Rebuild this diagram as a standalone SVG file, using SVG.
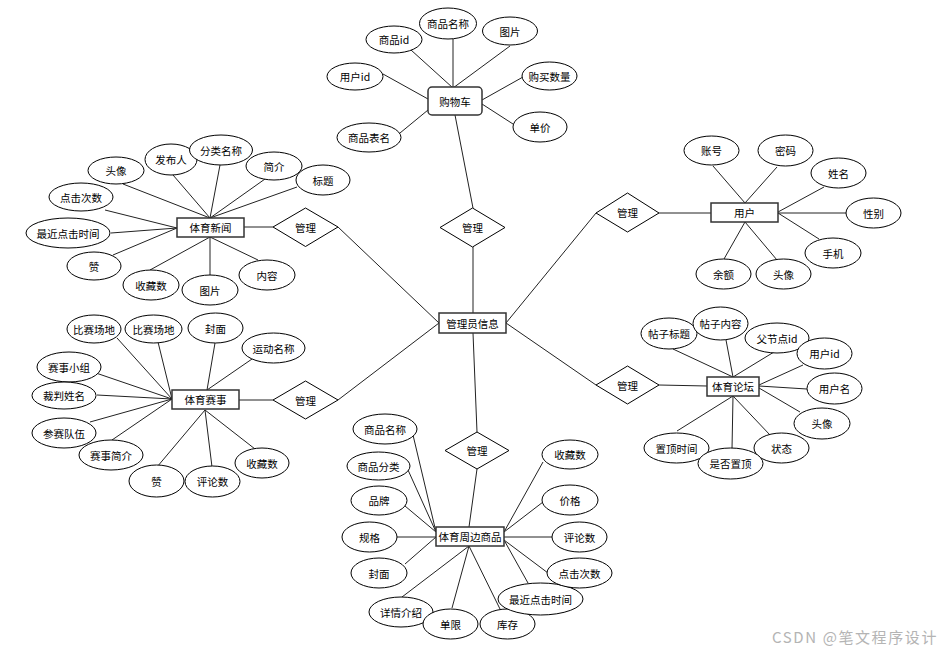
<svg xmlns="http://www.w3.org/2000/svg" width="947" height="651" viewBox="0 0 947 651">
<style>
.e{fill:#fff;stroke:#000;stroke-width:1}
.r{fill:#fff;stroke:#333;stroke-width:1.5}
.d{fill:#fff;stroke:#000;stroke-width:1}
.c line{stroke:#222;stroke-width:1}
text{font-family:"Noto Sans CJK SC","Liberation Sans",sans-serif;font-size:10.5px;fill:#000;text-anchor:middle;dominant-baseline:central}
.wm{font-size:15px;fill:#b4b4b4;text-anchor:start;letter-spacing:1.6px}
</style>
<rect width="947" height="651" fill="#fff"/>
<g id="connectors" class="c">
<line x1="411" y1="50" x2="453" y2="88"/>
<line x1="453" y1="39" x2="453" y2="88"/>
<line x1="510" y1="46" x2="453" y2="88"/>
<line x1="383" y1="74" x2="428" y2="99"/>
<line x1="523" y1="77" x2="482" y2="100"/>
<line x1="513" y1="124" x2="482" y2="104"/>
<line x1="400" y1="133" x2="428" y2="110"/>
<line x1="455" y1="115" x2="473" y2="208"/>
<line x1="123" y1="184" x2="210" y2="218"/>
<line x1="173" y1="175" x2="210" y2="218"/>
<line x1="220" y1="165" x2="210" y2="218"/>
<line x1="265" y1="179" x2="210" y2="218"/>
<line x1="297" y1="187" x2="210" y2="218"/>
<line x1="105" y1="210" x2="177" y2="228"/>
<line x1="111" y1="233" x2="177" y2="228"/>
<line x1="113" y1="255" x2="177" y2="228"/>
<line x1="150" y1="270" x2="210" y2="237"/>
<line x1="210" y1="275" x2="210" y2="237"/>
<line x1="258" y1="260" x2="210" y2="237"/>
<line x1="244" y1="227" x2="273" y2="227"/>
<line x1="338" y1="227" x2="439" y2="323"/>
<line x1="473" y1="247" x2="473" y2="313"/>
<line x1="506" y1="323" x2="596" y2="213"/>
<line x1="659" y1="213" x2="711" y2="213"/>
<line x1="713" y1="166" x2="745" y2="203"/>
<line x1="777" y1="167" x2="745" y2="203"/>
<line x1="824" y1="187" x2="778" y2="212"/>
<line x1="846" y1="213" x2="778" y2="213"/>
<line x1="819" y1="239" x2="778" y2="213"/>
<line x1="724" y1="259" x2="745" y2="222"/>
<line x1="777" y1="260" x2="745" y2="222"/>
<line x1="506" y1="323" x2="596" y2="385"/>
<line x1="659" y1="385" x2="707" y2="386"/>
<line x1="673" y1="349" x2="733" y2="377"/>
<line x1="726" y1="340" x2="733" y2="377"/>
<line x1="774" y1="352" x2="733" y2="377"/>
<line x1="803" y1="365" x2="759" y2="385"/>
<line x1="807" y1="389" x2="759" y2="386"/>
<line x1="800" y1="412" x2="759" y2="388"/>
<line x1="677" y1="431" x2="733" y2="396"/>
<line x1="732" y1="449" x2="733" y2="396"/>
<line x1="770" y1="435" x2="733" y2="396"/>
<line x1="439" y1="323" x2="338" y2="400"/>
<line x1="239" y1="400" x2="273" y2="400"/>
<line x1="117" y1="338" x2="172" y2="399"/>
<line x1="158" y1="342" x2="172" y2="399"/>
<line x1="93" y1="372" x2="172" y2="399"/>
<line x1="97" y1="395" x2="172" y2="399"/>
<line x1="90" y1="422" x2="172" y2="399"/>
<line x1="112" y1="440" x2="172" y2="399"/>
<line x1="215" y1="343" x2="207" y2="390"/>
<line x1="252" y1="359" x2="207" y2="390"/>
<line x1="157" y1="467" x2="205" y2="410"/>
<line x1="212" y1="467" x2="205" y2="410"/>
<line x1="255" y1="449" x2="205" y2="410"/>
<line x1="473" y1="333" x2="477" y2="432"/>
<line x1="477" y1="469" x2="469" y2="527"/>
<line x1="413" y1="435" x2="436" y2="532"/>
<line x1="408" y1="470" x2="436" y2="532"/>
<line x1="405" y1="506" x2="436" y2="532"/>
<line x1="397" y1="537" x2="436" y2="537"/>
<line x1="405" y1="564" x2="436" y2="537"/>
<line x1="543" y1="462" x2="504" y2="532"/>
<line x1="543" y1="502" x2="504" y2="532"/>
<line x1="552" y1="537" x2="504" y2="537"/>
<line x1="548" y1="573" x2="504" y2="540"/>
<line x1="528" y1="583" x2="504" y2="540"/>
<line x1="402" y1="597" x2="469" y2="546"/>
<line x1="452" y1="608" x2="469" y2="546"/>
<line x1="500" y1="609" x2="469" y2="546"/>
</g>

<g id="cart">
<rect class="r" x="428" y="87" width="54" height="28" rx="4"/><text x="455" y="101">购物车</text>
</g>
<g id="cart-attrs">
<g id="cart-spid"><ellipse class="e" cx="394" cy="39.5" rx="28" ry="13.5"/><text x="394" y="39.5">商品id</text></g>
<g id="cart-spmc"><ellipse class="e" cx="448" cy="23.5" rx="28.5" ry="15.5"/><text x="448" y="23.5">商品名称</text></g>
<g id="cart-tp"><ellipse class="e" cx="510" cy="31" rx="27.5" ry="14"/><text x="510" y="31">图片</text></g>
<g id="cart-yhid"><ellipse class="e" cx="355" cy="76.5" rx="28" ry="13.5"/><text x="355" y="76.5">用户id</text></g>
<g id="cart-gmsl"><ellipse class="e" cx="549.5" cy="76" rx="27.5" ry="14"/><text x="549.5" y="76">购买数量</text></g>
<g id="cart-dj"><ellipse class="e" cx="540" cy="127" rx="27" ry="15"/><text x="540" y="127">单价</text></g>
<g id="cart-spbm"><ellipse class="e" cx="369" cy="137.5" rx="32" ry="14.5"/><text x="369" y="137.5">商品表名</text></g>
</g>

<g id="news">
<rect class="r" x="177" y="218" width="67" height="19"/><text x="210.5" y="227.5">体育新闻</text>
</g>
<g id="news-attrs">
<g><ellipse class="e" cx="116" cy="170.5" rx="28" ry="13.5"/><text x="116" y="170.5">头像</text></g>
<g><ellipse class="e" cx="171" cy="159.5" rx="26" ry="15.5"/><text x="171" y="159.5">发布人</text></g>
<g><ellipse class="e" cx="221" cy="150" rx="31.5" ry="15"/><text x="221" y="150">分类名称</text></g>
<g><ellipse class="e" cx="274" cy="166" rx="28" ry="14"/><text x="274" y="166">简介</text></g>
<g><ellipse class="e" cx="323" cy="180" rx="27" ry="15"/><text x="323" y="180">标题</text></g>
<g><ellipse class="e" cx="81" cy="197" rx="32" ry="14"/><text x="81" y="197">点击次数</text></g>
<g><ellipse class="e" cx="68" cy="233" rx="42" ry="15"/><text x="68" y="233">最近点击时间</text></g>
<g><ellipse class="e" cx="94" cy="266" rx="27" ry="14"/><text x="94" y="266">赞</text></g>
<g><ellipse class="e" cx="151" cy="285" rx="28" ry="15"/><text x="151" y="285">收藏数</text></g>
<g><ellipse class="e" cx="210" cy="290" rx="28" ry="15"/><text x="210" y="290">图片</text></g>
<g><ellipse class="e" cx="267" cy="275" rx="28" ry="15"/><text x="267" y="275">内容</text></g>
</g>
<g id="rel-news"><polygon class="d" points="273,227 305.5,208 338,227 305.5,246.5"/><text x="305.5" y="227">管理</text></g>

<g id="rel-cart"><polygon class="d" points="440,227.5 472.5,208 505,227.5 472.5,247"/><text x="472.5" y="227.5">管理</text></g>

<g id="admin">
<rect class="r" x="439" y="313" width="67" height="20"/><text x="472.5" y="323">管理员信息</text>
</g>

<g id="rel-user"><polygon class="d" points="596,213 627.5,193 659,213 627.5,232"/><text x="627.5" y="212.5">管理</text></g>
<g id="user">
<rect class="r" x="711" y="203" width="67" height="19"/><text x="744.5" y="212.5">用户</text>
</g>
<g id="user-attrs">
<g><ellipse class="e" cx="711.5" cy="150.5" rx="27.5" ry="14.5"/><text x="711.5" y="150.5">账号</text></g>
<g><ellipse class="e" cx="785.5" cy="150.5" rx="27.5" ry="15.5"/><text x="785.5" y="150.5">密码</text></g>
<g><ellipse class="e" cx="838.5" cy="173" rx="27.5" ry="15"/><text x="838.5" y="173">姓名</text></g>
<g><ellipse class="e" cx="873.5" cy="213" rx="27.5" ry="15"/><text x="873.5" y="213">性别</text></g>
<g><ellipse class="e" cx="833" cy="253" rx="28" ry="15"/><text x="833" y="253">手机</text></g>
<g><ellipse class="e" cx="723.5" cy="274" rx="27.5" ry="15"/><text x="723.5" y="274">余额</text></g>
<g><ellipse class="e" cx="783.5" cy="274" rx="27.5" ry="15"/><text x="783.5" y="274">头像</text></g>
</g>

<g id="rel-forum"><polygon class="d" points="596,385 627.5,366 659,385 627.5,404"/><text x="627.5" y="385">管理</text></g>
<g id="forum">
<rect class="r" x="707" y="377" width="52" height="19"/><text x="733" y="386.5">体育论坛</text>
</g>
<g id="forum-attrs">
<g><ellipse class="e" cx="669" cy="333.5" rx="28" ry="15.5"/><text x="669" y="333.5">帖子标题</text></g>
<g><ellipse class="e" cx="720.5" cy="323.5" rx="27.5" ry="16.5"/><text x="720.5" y="323.5">帖子内容</text></g>
<g><ellipse class="e" cx="777" cy="338" rx="32" ry="15"/><text x="777" y="338">父节点id</text></g>
<g><ellipse class="e" cx="824.5" cy="353.5" rx="27.5" ry="15.5"/><text x="824.5" y="353.5">用户id</text></g>
<g><ellipse class="e" cx="834.5" cy="388.5" rx="27.5" ry="15.5"/><text x="834.5" y="388.5">用户名</text></g>
<g><ellipse class="e" cx="822" cy="423.5" rx="28" ry="15.5"/><text x="822" y="423.5">头像</text></g>
<g><ellipse class="e" cx="781.5" cy="448" rx="27.5" ry="15"/><text x="781.5" y="448">状态</text></g>
<g><ellipse class="e" cx="676.5" cy="448" rx="32.5" ry="15"/><text x="676.5" y="448">置顶时间</text></g>
<g><ellipse class="e" cx="730.5" cy="463.5" rx="32.5" ry="15.5"/><text x="730.5" y="463.5">是否置顶</text></g>
</g>

<g id="rel-event"><polygon class="d" points="273,400 305.5,381 338,400 305.5,419"/><text x="305.5" y="400">管理</text></g>
<g id="event">
<rect class="r" x="172" y="390" width="67" height="19"/><text x="205.5" y="399.5">体育赛事</text>
</g>
<g id="event-attrs">
<g><ellipse class="e" cx="94" cy="329" rx="27" ry="14"/><text x="94" y="329">比赛场地</text></g>
<g><ellipse class="e" cx="153.5" cy="329" rx="28.5" ry="14"/><text x="153.5" y="329">比赛场地</text></g>
<g><ellipse class="e" cx="215.5" cy="328" rx="27.5" ry="15"/><text x="215.5" y="328">封面</text></g>
<g><ellipse class="e" cx="273.5" cy="348" rx="31.5" ry="15"/><text x="273.5" y="348">运动名称</text></g>
<g><ellipse class="e" cx="69" cy="367" rx="32" ry="15"/><text x="69" y="367">赛事小组</text></g>
<g><ellipse class="e" cx="64" cy="395.5" rx="32" ry="13.5"/><text x="64" y="395.5">裁判姓名</text></g>
<g><ellipse class="e" cx="64" cy="433" rx="32" ry="15"/><text x="64" y="433">参赛队伍</text></g>
<g><ellipse class="e" cx="111" cy="455" rx="32" ry="15"/><text x="111" y="455">赛事简介</text></g>
<g><ellipse class="e" cx="156.5" cy="481" rx="27.5" ry="16"/><text x="156.5" y="481">赞</text></g>
<g><ellipse class="e" cx="212.5" cy="481.5" rx="27.5" ry="15.5"/><text x="212.5" y="481.5">评论数</text></g>
<g><ellipse class="e" cx="262" cy="463" rx="27" ry="15"/><text x="262" y="463">收藏数</text></g>
</g>

<g id="rel-goods"><polygon class="d" points="445,450.5 477,432 509,450.5 477,469"/><text x="477" y="450.5">管理</text></g>
<g id="goods">
<rect class="r" x="436" y="527" width="68" height="19"/><text x="470" y="536.5">体育周边商品</text>
</g>
<g id="goods-attrs">
<g><ellipse class="e" cx="385" cy="429" rx="32" ry="15"/><text x="385" y="429">商品名称</text></g>
<g><ellipse class="e" cx="378.5" cy="466" rx="31.5" ry="14"/><text x="378.5" y="466">商品分类</text></g>
<g><ellipse class="e" cx="379" cy="500.5" rx="28" ry="14.5"/><text x="379" y="500.5">品牌</text></g>
<g><ellipse class="e" cx="369.5" cy="537" rx="27.5" ry="15"/><text x="369.5" y="537">规格</text></g>
<g><ellipse class="e" cx="379" cy="573" rx="28" ry="15"/><text x="379" y="573">封面</text></g>
<g><ellipse class="e" cx="401" cy="612" rx="32" ry="15"/><text x="401" y="612">详情介绍</text></g>
<g><ellipse class="e" cx="450.5" cy="624" rx="27.5" ry="15"/><text x="450.5" y="624">单限</text></g>
<g><ellipse class="e" cx="507.5" cy="624" rx="27.5" ry="15"/><text x="507.5" y="624">库存</text></g>
<g><ellipse class="e" cx="540.5" cy="599" rx="42.5" ry="16"/><text x="540.5" y="599">最近点击时间</text></g>
<g><ellipse class="e" cx="579.5" cy="573" rx="32.5" ry="15"/><text x="579.5" y="573">点击次数</text></g>
<g><ellipse class="e" cx="579.5" cy="537" rx="27.5" ry="15"/><text x="579.5" y="537">评论数</text></g>
<g><ellipse class="e" cx="570" cy="500" rx="28" ry="15"/><text x="570" y="500">价格</text></g>
<g><ellipse class="e" cx="570" cy="454.5" rx="28" ry="14.5"/><text x="570" y="454.5">收藏数</text></g>
</g>

<text class="wm" x="772" y="636">CSDN @笔文程序设计</text>
</svg>
